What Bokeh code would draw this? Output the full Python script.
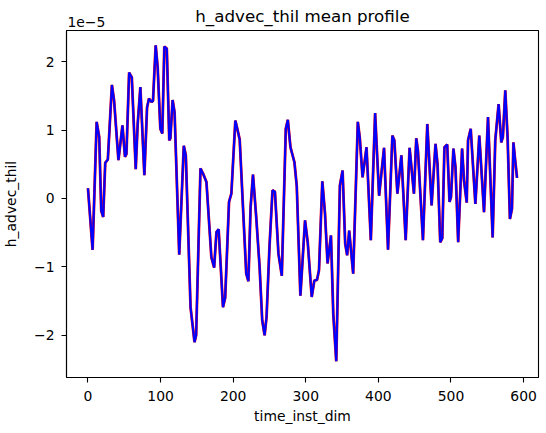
import numpy as np
from bokeh.plotting import figure
from bokeh.models import Range1d, FixedTicker, LinearAxis
from bokeh.embed import file_html
from bokeh.resources import INLINE

# Data (values in units of 1e-5)
time_inst_dim = [0, 6.4, 12, 15.5, 18.3, 21, 23.8, 27.4, 33, 36, 42, 47.5, 51, 53, 56.7, 60.4,
                 65.8, 68.5, 72.2, 77.7, 81.4, 84, 87.8, 89.6, 93.3, 96, 99.7, 102.4, 105.2, 108.6,
                 112, 113.5, 116.6, 119.3, 125.7, 132, 134.8, 141.3, 146.8, 149, 155, 158.7, 163.2,
                 170, 173.8, 177, 180, 186, 189, 194.3, 197.5, 203, 205.7, 209, 218, 221, 224,
                 227.3, 231.8, 236.4, 240, 243.3, 246, 250, 254.2, 257.5, 262.4, 267, 272.5, 275.3,
                 278.9, 284.4, 287.6, 292.6, 299, 302.7, 308.2, 311.8, 315.5, 318.2, 322.8, 326.5,
                 330, 334.7, 337.9, 342, 347, 350.7, 354.3, 357, 359.8, 365.3, 371.7, 374.4, 378.2,
                 383.7, 389.6, 395.5, 401, 407.8, 413.3, 419.3, 422, 426.2, 431.7, 437.6, 443, 449,
                 452.2, 454.5, 461.4, 467.4, 473.3, 478.7, 481.5, 485.2, 488, 491, 494.8, 498, 500,
                 503.4, 506.2, 509.9, 515.3, 518, 521.7, 523.5, 527.2, 533.6, 539, 545.5, 551,
                 557.4, 561, 565.6, 569.3, 571.5, 574.8, 578, 581.2, 584, 586, 588.5, 591]
h_advec_thil = [0.15, -0.75, 1.12, 0.9, -0.18, -0.27, 0.52, 0.57, 1.66, 1.43, 0.56, 1.07, 0.61, 0.65,
                1.84, 1.77, 0.43, 1.09, 1.63, 0.34, 1.33, 1.46, 1.41, 1.43, 2.24, 1.92, 1.02, 0.95,
                2.22, 2.19, 0.85, 0.88, 1.44, 1.26, -0.82, 0.77, 0.63, -1.59, -2.1, -2.0, 0.44, 0.36,
                0.24, -0.86, -1.01, -0.49, -0.45, -1.59, -1.45, -0.05, 0.07, 1.14, 1.02, 0.86, -1.1,
                -1.21, -0.13, 0.35, -0.28, -1.0, -1.78, -2.0, -1.73, -0.71, 0.12, 0.1, -0.81, -1.13,
                1.02, 1.15, 0.75, 0.53, 0.18, -1.42, -0.32, -0.64, -1.44, -1.2, -1.19, -1.05, 0.25,
                -0.22, -0.95, -0.54, -1.69, -2.38, 0.19, 0.41, -0.66, -0.83, -0.47, -1.1, 1.12, 0.89,
                0.31, 0.75, -0.61, 1.25, 0.04, 0.74, -0.75, 0.92, 0.85, 0.07, 0.63, -0.61, 0.74, 0.07,
                0.88, 0.7, -0.61, 1.09, -0.1, 0.8, 0.5, -0.64, -0.58, 0.75, 0.79, -0.05, 0.02, 0.73,
                0.46, -0.64, 0.73, 0.26, -0.06, 0.85, 1.02, -0.08, 0.92, -0.2, 1.19, -0.57, 0.85,
                1.38, 0.82, 0.9, 1.58, 0.89, -0.3, -0.15, 0.82, 0.55, 0.3]
x_ticks = [0, 100, 200, 300, 400, 500, 600]
y_ticks = [-2, -1, 0, 1, 2]
y_tick_labels = ["\u22122", "\u22121", "0", "1", "2"]
title_text = "h_advec_thil mean profile"
offset_text = "1e\u22125"

FONT = "DejaVu Sans"

xmin, xmax = min(time_inst_dim), max(time_inst_dim)
xm = 0.05 * (xmax - xmin)
y_lo, y_hi = -2.617, 2.456

p = figure(width=546, height=433, output_backend="svg", toolbar_location=None,
           x_range=Range1d(xmin - xm, xmax + xm), y_range=Range1d(y_lo, y_hi),
           min_border_left=65, min_border_right=8, min_border_top=30, min_border_bottom=56)
p.background_fill_color = "white"
p.border_fill_color = "white"
p.outline_line_color = "black"
p.outline_line_width = 1.1
p.xgrid.visible = False
p.ygrid.visible = False

p.line(time_inst_dim, h_advec_thil, line_color="red", line_width=2.8)
p.line(time_inst_dim, h_advec_thil, line_color="blue", line_width=2.2)

p.xaxis.ticker = FixedTicker(ticks=x_ticks)
p.yaxis.ticker = FixedTicker(ticks=y_ticks)
p.yaxis.major_label_overrides = {t: s for t, s in zip(y_ticks, y_tick_labels)}
p.xaxis.axis_label = "time_inst_dim"
p.yaxis.axis_label = "h_advec_thil"
for ax in (p.xaxis, p.yaxis):
    ax.axis_label_text_font = FONT
    ax.axis_label_text_font_size = "13.9px"
    ax.axis_label_text_font_style = "normal"
    ax.axis_label_text_color = "black"
    ax.major_label_text_font = FONT
    ax.major_label_text_font_size = "13.9px"
    ax.major_label_text_color = "black"
    ax.major_tick_out = 5
    ax.major_tick_in = 0
    ax.minor_tick_out = 0
    ax.minor_tick_in = 0
    ax.major_tick_line_color = "black"
    ax.major_tick_line_width = 1.1
    ax.axis_line_color = "black"
    ax.axis_line_width = 1.1
p.xaxis.major_label_standoff = 8
p.xaxis.axis_label_standoff = 4
p.yaxis.major_label_standoff = 7
p.yaxis.axis_label_standoff = 12

# Top axis carrying the title (axis label) and the 1e-5 offset text (tick label)
offset_pos = (xmin - xm) + 20 / 0.73  # offset-text centre, about 20 px right of the frame edge
top = LinearAxis(ticker=FixedTicker(ticks=[offset_pos]),
                 major_label_overrides={offset_pos: offset_text},
                 axis_label=title_text)
top.axis_line_color = None
top.major_tick_line_color = None
top.minor_tick_line_color = None
top.major_tick_out = 0
top.major_tick_in = 0
top.minor_tick_out = 0
top.minor_tick_in = 0
top.major_label_text_font = FONT
top.major_label_text_font_size = "13.9px"
top.major_label_text_color = "black"
top.major_label_standoff = 4
top.axis_label_text_font = FONT
top.axis_label_text_font_size = "16.7px"
top.axis_label_text_font_style = "normal"
top.axis_label_text_color = "black"
top.axis_label_standoff = -12
p.add_layout(top, "above")

open("out.html", "w").write(file_html(p, INLINE))
